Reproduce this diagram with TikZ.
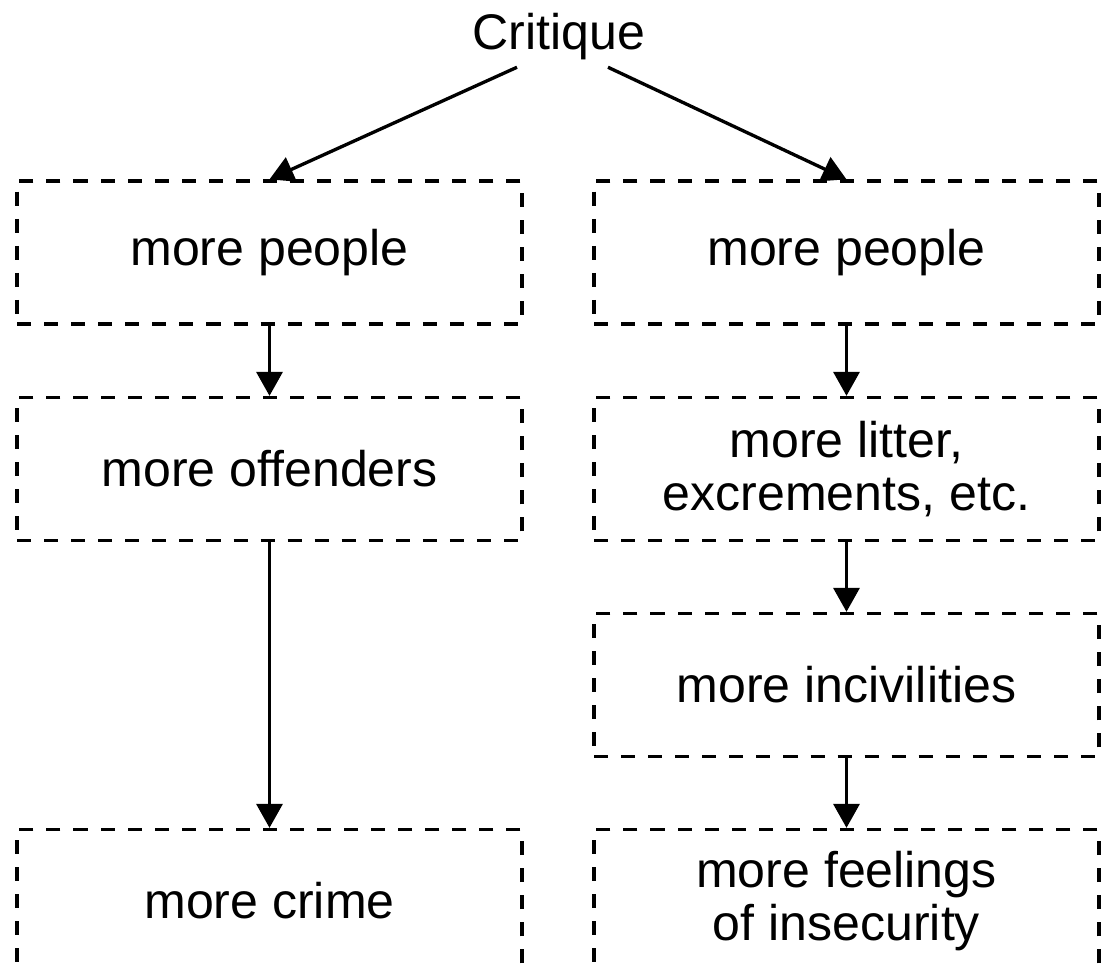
\documentclass[tikz,border=0pt]{standalone}
\usepackage{fontspec}
\setmainfont{Liberation Sans}
\usepackage{tikz}
\usetikzlibrary{arrows.meta,positioning}

\begin{document}
\begin{tikzpicture}[x = 0.02cm, y = -0.02cm]
	\tikzstyle{every node} = [font = \fontsize{28.5}{30.5}\selectfont, align = center]
	\tikzstyle{box} = [draw = black, dash pattern = on 8pt off 7.4pt, line width = 1.9pt, minimum width = 10.1cm, minimum height = 2.86cm]
	\tikzstyle{arr} = [line width = 1.9pt, -{Triangle[length = 0.48cm, width = 0.52cm]}]
\useasboundingbox (0, 0) rectangle (1107, 971);
\clip (0, 0) rectangle (1107, 971);
\node[inner sep = 0.15cm, anchor = base] (0) at (559, 49) {Critique};
\node[box] (1) at (269.5, 252.5) {more people};
\node[box] (2) at (269.5, 469) {more offenders};
\node[box] (3) at (269.5, 901) {more crime};
\node[box] (4) at (846.5, 252.5) {more people};
\node[box] (5) at (846.5, 469) {more litter,\\excrements, etc.};
\node[box] (6) at (846.5, 685) {more incivilities};
\node[box] (7) at (846.5, 901) {more feelings\\of insecurity};
	\path[draw][arr] ([xshift = -0.84cm]0.south) -- (1.north);
	\path[draw][arr] ([xshift = 0.98cm]0.south) -- (4.north);
	\path[draw][arr] (1) -- (2);
	\path[draw][arr] (2) -- (3);
	\path[draw][arr] (4) -- (5);
	\path[draw][arr] (5) -- (6);
	\path[draw][arr] (6) -- (7);
    \end{tikzpicture}
\end{document}
